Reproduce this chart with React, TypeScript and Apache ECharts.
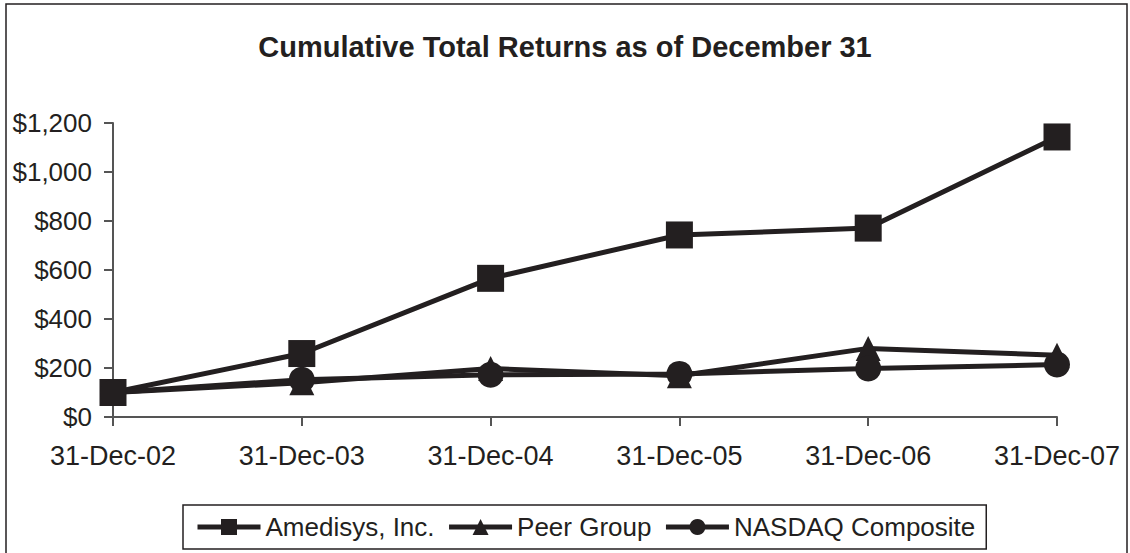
import React, { useEffect, useRef } from "react";
import * as echarts from "echarts";

const categories = ["31-Dec-02", "31-Dec-03", "31-Dec-04", "31-Dec-05", "31-Dec-06", "31-Dec-07"];
const amedisys = [100, 259, 566, 743, 771, 1143];
const peerGroup = [100, 140, 198, 168, 280, 252];
const nasdaq = [100, 152, 172, 176, 198, 214];
const yTicks = { min: 0, max: 1200, interval: 200 };

export default function App() {
  const ref = useRef<HTMLDivElement>(null);
  useEffect(() => {
    document.body.style.margin = "0";
    const chart = echarts.init(ref.current!, null, { renderer: "svg" });
    const font = "'Liberation Sans', Arial, sans-serif";
    const ink = "#231f20";
    const mk = (name: string, data: number[], symbol: string, size: number) => ({
      name,
      type: "line",
      data,
      symbol,
      symbolSize: size,
      showSymbol: true,
      itemStyle: { color: ink },
      lineStyle: { color: ink, width: 5 },
      z: 2,
    });
    chart.setOption({
      animation: false,
      backgroundColor: "#ffffff",
      textStyle: { fontFamily: font, color: ink },
      title: {
        text: "Cumulative Total Returns as of December 31",
        left: "center",
        top: 27,
        textStyle: { fontFamily: font, fontSize: 29, fontWeight: "bold", color: ink },
      },
      grid: { left: 113, right: 73, top: 123, bottom: 136, containLabel: false },
      xAxis: {
        type: "category",
        data: categories,
        boundaryGap: false,
        axisLine: { lineStyle: { color: "#555", width: 2 } },
        axisTick: { show: true, length: 9, lineStyle: { color: "#555", width: 2 } },
        axisLabel: { fontSize: 27, color: ink, margin: 25, fontFamily: font },
        splitLine: { show: false },
      },
      yAxis: {
        type: "value",
        min: yTicks.min,
        max: yTicks.max,
        interval: yTicks.interval,
        axisLine: { show: true, lineStyle: { color: "#555", width: 2 } },
        axisTick: { show: true, length: 9, lineStyle: { color: "#555", width: 2 } },
        axisLabel: {
          fontSize: 26,
          color: ink,
          margin: 21,
          fontFamily: font,
          formatter: (v: number) => "$" + v.toLocaleString("en-US"),
        },
        splitLine: { show: false },
      },
      legend: {
        bottom: 4,
        left: 183,
        padding: [9, 11, 9, 12],
        borderColor: ink,
        borderWidth: 1.5,
        itemWidth: 63,
        itemHeight: 20,
        itemGap: 12,
        lineStyle: { width: 5 },
        textStyle: { fontSize: 26, fontFamily: font, color: ink },
        data: ["Amedisys, Inc.", "Peer Group", "NASDAQ Composite"],
      },
      graphic: [
        {
          type: "rect",
          shape: { x: 6, y: 4, width: 1121, height: 560 },
          style: { fill: "none", stroke: ink, lineWidth: 1.5 },
          silent: true,
        },
      ],
      series: [
        mk("Amedisys, Inc.", amedisys, "rect", 27),
        mk("Peer Group", peerGroup, "triangle", 25),
        mk("NASDAQ Composite", nasdaq, "circle", 26),
      ],
    });
    return () => chart.dispose();
  }, []);
  return <div ref={ref} style={{ width: 1130, height: 553 }} />;
}
